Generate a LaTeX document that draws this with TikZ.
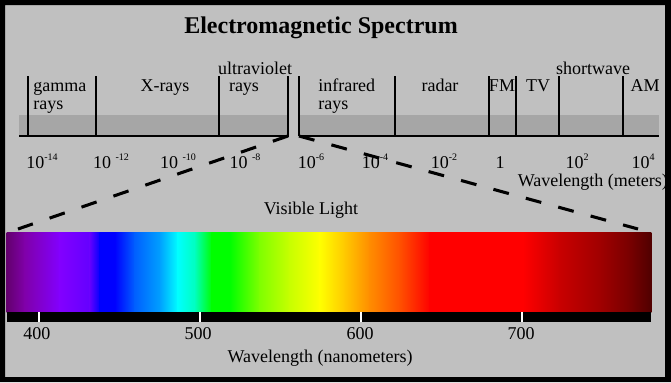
\documentclass[tikz,border=0pt]{standalone}
\usepackage{fontspec}
\setmainfont{Liberation Serif}
\definecolor{bg}{RGB}{192,192,192}
\definecolor{band}{RGB}{166,166,166}
\definecolor{c1}{RGB}{100,0,110}
\definecolor{c2}{RGB}{128,0,170}
\definecolor{c3}{RGB}{130,0,255}
\definecolor{c4}{RGB}{100,0,255}
\definecolor{c5}{RGB}{0,0,255}
\definecolor{c6}{RGB}{0,0,255}
\definecolor{c7}{RGB}{0,96,255}
\definecolor{c8}{RGB}{0,160,255}
\definecolor{c9}{RGB}{0,255,255}
\definecolor{c10}{RGB}{0,255,190}
\definecolor{c11}{RGB}{0,255,0}
\definecolor{c12}{RGB}{0,255,0}
\definecolor{c13}{RGB}{128,255,0}
\definecolor{c14}{RGB}{200,255,0}
\definecolor{c15}{RGB}{255,255,0}
\definecolor{c16}{RGB}{255,200,0}
\definecolor{c17}{RGB}{255,140,0}
\definecolor{c18}{RGB}{255,80,0}
\definecolor{c19}{RGB}{255,0,0}
\definecolor{c20}{RGB}{255,0,0}
\definecolor{c21}{RGB}{200,0,0}
\definecolor{c22}{RGB}{160,0,0}
\definecolor{c23}{RGB}{120,0,0}
\definecolor{c24}{RGB}{80,0,0}
\newcommand{\expo}[1]{\raisebox{5.5pt}{\fontsize{7.5}{8}\selectfont #1}}
\begin{document}
\begin{tikzpicture}[x=0.75pt,y=-0.75pt,
  lbl/.style={font=\fontsize{13.5}{15}\selectfont, inner sep=0pt, anchor=base},
  lblw/.style={lbl, anchor=base west},
  titlestyle/.style={font=\fontsize{18}{20}\selectfont\bfseries, inner sep=0pt, anchor=base},
  divider/.style={line width=0.9pt},
  zoomline/.style={line width=2.3pt},
]
\useasboundingbox (0,0) rectangle (671,382);
\fill[bg] (0,0) rectangle (671,382);

% title
\node[titlestyle] (title) at (321,33) {Electromagnetic Spectrum};

% band
\fill[band] (19,115) rectangle (288,136);
\fill[band] (299,115) rectangle (659,136);
\draw[line width=1.2pt] (19,136) -- (289,136);
\draw[line width=1.2pt] (299,136) -- (659,136);
\foreach \xx in {28,96,219,288,299,395,489,516,559,623}
  \draw[divider] (\xx,76) -- (\xx,136);

% region labels
\node[lblw] (gamma) at (33,91) {gamma};
\node[lblw] (gammarays) at (33,109) {rays};
\node[lbl] (xrays) at (165,91) {X-rays};
\node[lbl] (uv) at (255,74) {ultraviolet};
\node[lbl] (uvrays) at (244,91) {rays};
\node[lblw] (ir) at (318,91) {infrared};
\node[lblw] (irrays) at (318,109) {rays};
\node[lbl] (radar) at (440,91) {radar};
\node[lbl] (fm) at (502,91) {FM};
\node[lbl] (tv) at (538,91) {TV};
\node[lbl] (sw) at (593,74) {shortwave};
\node[lbl] (am) at (645,91) {AM};

% wavelength (meters) labels
\node[lbl] (m14) at (42,168) {10\expo{-14}};
\node[lbl] (m12) at (111,168) {10 \expo{-12}};
\node[lbl] (m10) at (178,168) {10 \expo{-10}};
\node[lbl] (m8) at (245,168) {10 \expo{-8}};
\node[lbl] (m6) at (311,168) {10\expo{-6}};
\node[lbl] (m4) at (375,168) {10\expo{-4}};
\node[lbl] (m2) at (444,168) {10\expo{-2}};
\node[lbl] (m0) at (500,168) {1};
\node[lbl] (p2) at (577,168) {10\expo{2}};
\node[lbl] (p4) at (643,168) {10\expo{4}};
\node[lbl, anchor=base east] (wlm) at (668,186) {Wavelength (meters)};

% zoom lines
\coordinate (gapL) at (288,136);
\coordinate (gapR) at (299,136);
\coordinate (visL) at (18,229);
\coordinate (visR) at (638,229);
\draw[zoomline, dash pattern=on 12pt off 13.3pt] (gapL) -- (visL);
\draw[zoomline, dash pattern=on 12pt off 13.2pt] (gapR) -- (visR);

\node[lbl] (vislight) at (311,214) {Visible Light};

% spectrum
\foreach \a/\b/\ca/\cb in {7/25/c1/c2, 25/60/c2/c3, 60/90/c3/c4, 90/100/c4/c5, 100/115/c5/c6,
  115/135/c6/c7, 135/160/c7/c8, 160/178/c8/c9, 178/195/c9/c10, 195/212/c10/c11, 212/230/c11/c12,
  230/260/c12/c13, 260/290/c13/c14, 290/320/c14/c15, 320/345/c15/c16, 345/370/c16/c17,
  370/400/c17/c18, 400/430/c18/c19, 430/523/c19/c20, 523/560/c20/c21, 560/600/c21/c22,
  600/630/c22/c23, 630/651/c23/c24}
  \shade[left color=\ca, right color=\cb] (\a-0.3,232) rectangle (\b+0.3,312);
\fill[black] (7,312) rectangle (651,322);
\foreach \xx in {39,200,361,522}
  \fill[white] (\xx-1,312) rectangle (\xx+1,322);
\node[lbl] (n400) at (37,339) {400};
\node[lbl] (n500) at (198,339) {500};
\node[lbl] (n600) at (360,339) {600};
\node[lbl] (n700) at (521,339) {700};
\node[lbl] (wln) at (320,362) {Wavelength (nanometers)};

% frame
\fill[black, even odd rule] (0,0) rectangle (671,382) (5,5) rectangle (665,377);
\end{tikzpicture}
\end{document}
